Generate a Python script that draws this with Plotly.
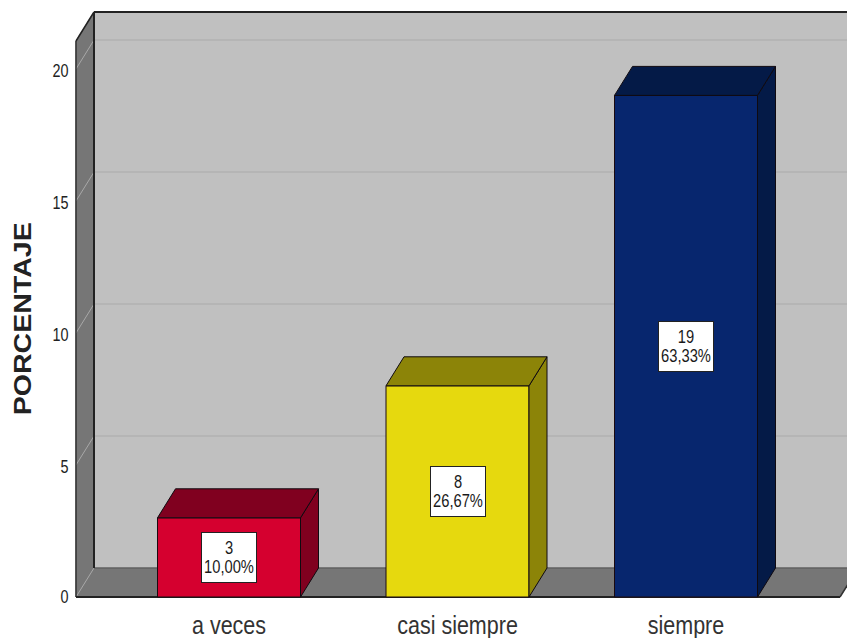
import plotly.graph_objects as go

categories = ["a veces", "casi siempre", "siempre"]
counts = [3, 8, 19]
percent_labels = ["10,00%", "26,67%", "63,33%"]
y_ticks = [0, 5, 10, 15, 20]
front_colors = ["#d5002f", "#e6d90e", "#07266e"]
side_colors = ["#80001f", "#8c8408", "#041a47"]
top_colors = ["#80001f", "#8c8408", "#041a47"]

# Axis scale (pixels per data unit) and pseudo-3D depth
W, H = 847, 638
X0_PX, PX_X = 229.0, 228.5
Y0_PX, PX_Y = 597.0, 26.4
L, R, T, B = 74, 847, 10, 600
x_range = [(L - X0_PX) / PX_X, (R - X0_PX) / PX_X]
y_range = [(Y0_PX - B) / PX_Y, (Y0_PX - T) / PX_Y]
DX = 18 / PX_X
DY = 29 / PX_Y
BAR_W = 143 / PX_X
WALL_LEFT = (76 - X0_PX) / PX_X
WALL_TOP = (Y0_PX - 41) / PX_Y
FLOOR_RIGHT = (840 - X0_PX) / PX_X
xs = list(range(len(categories)))

fig = go.Figure()

def poly(px, py, color, line=None, width=1):
    return dict(type="path", xref="x", yref="y", layer="below",
                path="M" + " L".join(f"{a},{b}" for a, b in zip(px, py)) + " Z",
                fillcolor=color, line=dict(color=line or color, width=width))

def seg(x0, y0, x1, y1, color, width):
    return dict(type="line", xref="x", yref="y", layer="below",
                x0=x0, y0=y0, x1=x1, y1=y1, line=dict(color=color, width=width))

shapes = [
    poly([WALL_LEFT + DX, x_range[1] + 1, x_range[1] + 1, WALL_LEFT + DX],
         [DY, DY, WALL_TOP + DY, WALL_TOP + DY], "#c0c0c0"),
    poly([WALL_LEFT, WALL_LEFT + DX, WALL_LEFT + DX, WALL_LEFT],
         [0, DY, WALL_TOP + DY, WALL_TOP], "#767676"),
    poly([WALL_LEFT, FLOOR_RIGHT, FLOOR_RIGHT + DX, WALL_LEFT + DX],
         [0, 0, DY, DY], "#767676"),
]
for t in y_ticks:
    if t > 0:
        shapes.append(seg(WALL_LEFT + DX, t + DY, x_range[1] + 1, t + DY, "#b2b2b2", 1.5))
    shapes.append(seg(WALL_LEFT, t, WALL_LEFT + DX, t + DY, "#a8a8a8", 1))
shapes += [
    seg(WALL_LEFT + DX, DY, x_range[1] + 1, DY, "#555555", 1),
    seg(WALL_LEFT + DX, 0 + DY, WALL_LEFT + DX, WALL_TOP + DY, "#222222", 2),
    seg(WALL_LEFT + DX, WALL_TOP + DY, x_range[1] + 1, WALL_TOP + DY, "#222222", 2),
    seg(WALL_LEFT, 0, WALL_LEFT, WALL_TOP, "#333333", 1.5),
    seg(WALL_LEFT, WALL_TOP, WALL_LEFT + DX, WALL_TOP + DY, "#222222", 1.5),
    seg(WALL_LEFT, 0, FLOOR_RIGHT, 0, "#222222", 2),
    seg(FLOOR_RIGHT, 0, FLOOR_RIGHT + DX, DY, "#333333", 1.5),
]

fig.add_trace(go.Bar(
    x=xs, y=counts, width=BAR_W,
    marker=dict(color=front_colors, line=dict(color="#1a0a10", width=1)),
    showlegend=False, hoverinfo="skip",
))

for x, v, sc, tc in zip(xs, counts, side_colors, top_colors):
    xl, xr = x - BAR_W / 2, x + BAR_W / 2
    fig.add_trace(go.Scatter(
        x=[xr, xr + DX, xr + DX, xr, xr], y=[0, DY, v + DY, v, 0],
        mode="lines", fill="toself", fillcolor=sc,
        line=dict(color="#100a10", width=1), showlegend=False, hoverinfo="skip"))
    fig.add_trace(go.Scatter(
        x=[xl, xl + DX, xr + DX, xr, xl], y=[v, v + DY, v + DY, v, v],
        mode="lines", fill="toself", fillcolor=tc,
        line=dict(color="#100a10", width=1), showlegend=False, hoverinfo="skip"))

for x, v, p in zip(xs, counts, percent_labels):
    fig.add_annotation(
        x=x, y=v / 2, xref="x", yref="y", text=f"{v}<br>{p}", showarrow=False,
        width=52, height=47, bgcolor="#ffffff", bordercolor="#222222", borderwidth=1,
        align="center", valign="middle",
        font=dict(family="Liberation Sans", size=17.5, color="#1a1a1a"))

fig.add_annotation(
    x=(22 - L) / (R - L), xref="paper", y=(Y0_PX - 318.5) / PX_Y, yref="y",
    text="PORCENTAJE", textangle=-90, showarrow=False,
    xanchor="center", yanchor="middle",
    font=dict(family="Liberation Sans", size=23, weight=700, color="#222222"))

fig.update_layout(
    width=W, height=H, autosize=False,
    margin=dict(l=L, r=W - R, t=T, b=H - B, pad=0, autoexpand=False),
    paper_bgcolor="#ffffff", plot_bgcolor="#ffffff",
    shapes=shapes, showlegend=False,
    xaxis=dict(range=x_range, tickmode="array", tickvals=xs, ticktext=categories,
               showgrid=False, zeroline=False, showline=False, ticks="outside",
               ticklen=3, tickcolor="rgba(0,0,0,0)", automargin=False,
               tickfont=dict(family="Liberation Sans", size=25, color="#333333")),
    yaxis=dict(range=y_range, tickmode="array", tickvals=y_ticks,
               showgrid=False, zeroline=False, showline=False, ticks="outside",
               ticklen=1, tickcolor="rgba(0,0,0,0)", automargin=False,
               tickfont=dict(family="Liberation Sans", size=18, color="#222222")),
)

# Reference lettering is a stretched / condensed face: scale the real text horizontally.
post = """
function fit(el, k){
  if(!el.dataset.nat){ el.dataset.nat = el.getComputedTextLength(); }
  el.setAttribute('lengthAdjust','spacingAndGlyphs');
  el.setAttribute('textLength', el.dataset.nat * k);
}
function applyFit(){
  document.querySelectorAll('.xtick text').forEach(function(e){ fit(e, 0.86); });
  document.querySelectorAll('.ytick text').forEach(function(e){
    fit(e, 0.8);
    if(!e.dataset.sh && e.textContent !== '0'){ e.dataset.sh = 1; e.setAttribute('y', parseFloat(e.getAttribute('y')) + 2); }
  });
  document.querySelectorAll('.annotation-text').forEach(function(e){
    if(e.textContent === 'PORCENTAJE'){ fit(e, 193 / (e.dataset.nat || e.getComputedTextLength())); }
    else {
      e.querySelectorAll('tspan.line').forEach(function(t, i){
        fit(t, 0.84);
        t.setAttribute('dy', i === 1 ? '1.22em' : '0.12em');
      });
    }
  });
}
document.body.style.margin='0';
document.documentElement.style.overflow='hidden';
applyFit();
"""
fig.write_html("out.html", config=dict(displayModeBar=False), post_script=post)
